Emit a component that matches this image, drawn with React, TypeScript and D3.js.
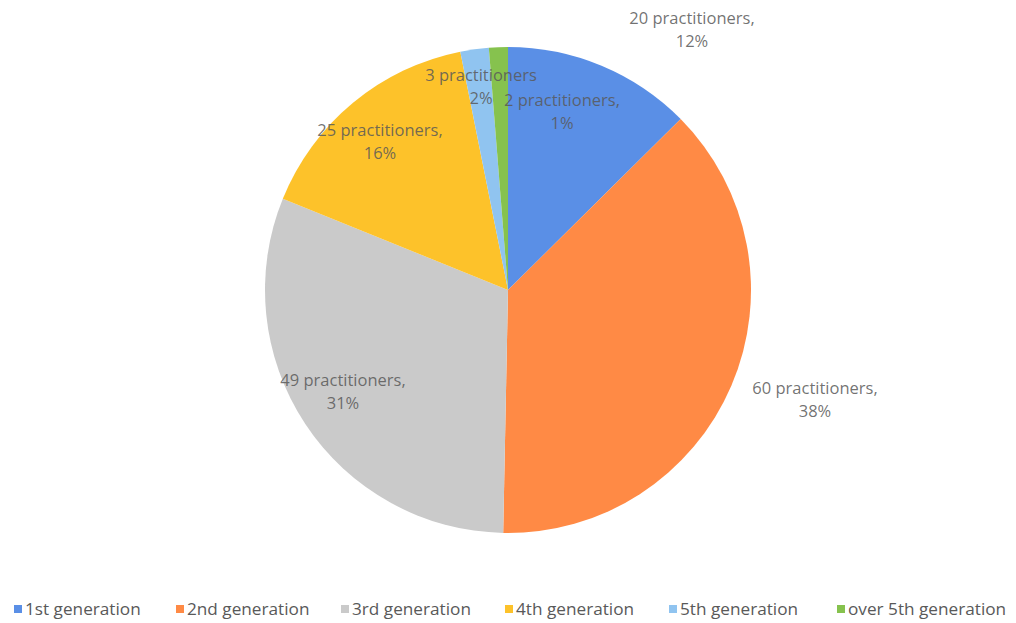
import React from "react";
import * as d3 from "d3";

const categories = ["1st generation", "2nd generation", "3rd generation", "4th generation", "5th generation", "over 5th generation"];
const values = [20, 60, 49, 25, 3, 2];
const percentLabels = ["12%", "38%", "31%", "16%", "2%", "1%"];
const colors = ["#5A8FE6", "#FF8A45", "#CACACA", "#FDC22A", "#90C4F0", "#86C24E"];
// label layout (line-1 centre x, y) and whether a comma follows
const labelPos: [number, number][] = [[692, 24], [815, 394], [343, 386], [380, 136], [481, 81], [562, 106]];
const labelComma = [true, true, true, true, false, true];
const legendX = [14, 176, 341, 505, 669, 837];

const W = 1016, H = 623;
const cx = 508, cy = 290, R = 243;

export default function App() {
  const pie = d3.pie<number>().sort(null).startAngle(0).endAngle(2 * Math.PI);
  const arcs = pie(values);
  const arc = d3.arc<d3.PieArcDatum<number>>().innerRadius(0).outerRadius(R);
  const font = "'Open Sans', sans-serif";
  return (
    <svg width={W} height={H} style={{ position: "absolute", left: 0, top: 0, background: "#fff" }}>
      <g transform={`translate(${cx},${cy})`}>
        {arcs.map((a, i) => (
          <path key={i} d={arc(a) || ""} fill={colors[i]} />
        ))}
      </g>
      {values.map((v, i) => {
        const [x, y] = labelPos[i];
        return (
          <text key={i} textAnchor="middle" fontFamily={font} fontSize={16.5} fill="#595959" fillOpacity={0.85}>
            <tspan x={x} y={y}>{`${v} practitioners${labelComma[i] ? "," : ""}`}</tspan>
            <tspan x={x} y={y + 23}>{percentLabels[i]}</tspan>
          </text>
        );
      })}
      {categories.map((c, i) => (
        <g key={c} transform={`translate(${legendX[i]},609)`}>
          <rect x={0} y={-4} width={8} height={8} fill={colors[i]} />
          <text x={11} y={6} fontFamily={font} fontSize={17.2} fill="#595959">{c}</text>
        </g>
      ))}
    </svg>
  );
}
